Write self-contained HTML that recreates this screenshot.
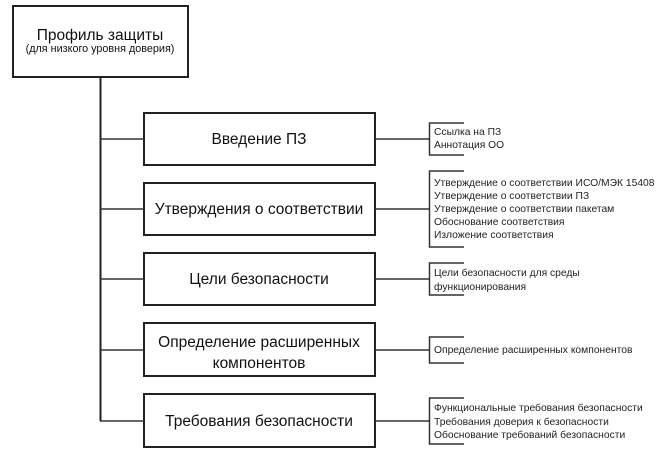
<!DOCTYPE html>
<html><head><meta charset="utf-8"><style>
html,body{margin:0;padding:0;background:#fff;}
svg{display:block;font-family:"Liberation Sans",Arial,sans-serif;}
</style></head><body>
<svg width="668" height="470" viewBox="0 0 668 470" xmlns="http://www.w3.org/2000/svg">
<g fill="none" stroke="#222" stroke-width="2">
<rect x="13" y="6" width="175" height="71"/>
<line x1="100.5" y1="77" x2="100.5" y2="421"/>
<rect x="144" y="113" width="231" height="52"/>
<rect x="144" y="183" width="231" height="52"/>
<rect x="144" y="253" width="231" height="52"/>
<rect x="144" y="323" width="231" height="53"/>
<rect x="144" y="394" width="231" height="53"/>
</g>
<g stroke="#333" stroke-width="1.5" fill="none">
<line x1="100" y1="139" x2="144" y2="139"/><line x1="375" y1="139" x2="429" y2="139"/>
<line x1="100" y1="209" x2="144" y2="209"/><line x1="375" y1="209" x2="429" y2="209"/>
<line x1="100" y1="279" x2="144" y2="279"/><line x1="375" y1="279" x2="429" y2="279"/>
<line x1="100" y1="350" x2="144" y2="350"/><line x1="375" y1="350" x2="429" y2="350"/>
<line x1="100" y1="421" x2="144" y2="421"/><line x1="375" y1="421" x2="429" y2="421"/>
<polyline points="464,123 429.5,123 429.5,155 464,155"/>
<polyline points="464,171 429.5,171 429.5,247 464,247"/>
<polyline points="464,263 429.5,263 429.5,295 464,295"/>
<polyline points="464,337 429.5,337 429.5,363 464,363"/>
<polyline points="464,398 429.5,398 429.5,444 464,444"/>
</g>
<g fill="#111" text-anchor="middle" font-size="15.5">
<text x="100" y="40">Профиль защиты</text>
<text x="100" y="52" font-size="10.8">(для низкого уровня доверия)</text>
<text x="259" y="144">Введение ПЗ</text>
<text x="259" y="214">Утверждения о соответствии</text>
<text x="259" y="284">Цели безопасности</text>
<text x="259" y="347">Определение расширенных</text>
<text x="259" y="368">компонентов</text>
<text x="259" y="426">Требования безопасности</text>
</g>
<g fill="#222" font-size="10.3">
<text x="434" y="135">Ссылка на ПЗ</text>
<text x="434" y="148">Аннотация ОО</text>
<text x="434" y="186">Утверждение о соответствии ИСО/МЭК 15408</text>
<text x="434" y="199">Утверждение о соответствии ПЗ</text>
<text x="434" y="212">Утверждение о соответствии пакетам</text>
<text x="434" y="225">Обоснование соответствия</text>
<text x="434" y="238">Изложение соответствия</text>
<text x="434" y="276">Цели безопасности для среды</text>
<text x="434" y="290">функционирования</text>
<text x="434" y="353">Определение расширенных компонентов</text>
<text x="434" y="411">Функциональные требования безопасности</text>
<text x="434" y="425">Требования доверия к безопасности</text>
<text x="434" y="438">Обоснование требований безопасности</text>
</g>
</svg>
</body></html>
